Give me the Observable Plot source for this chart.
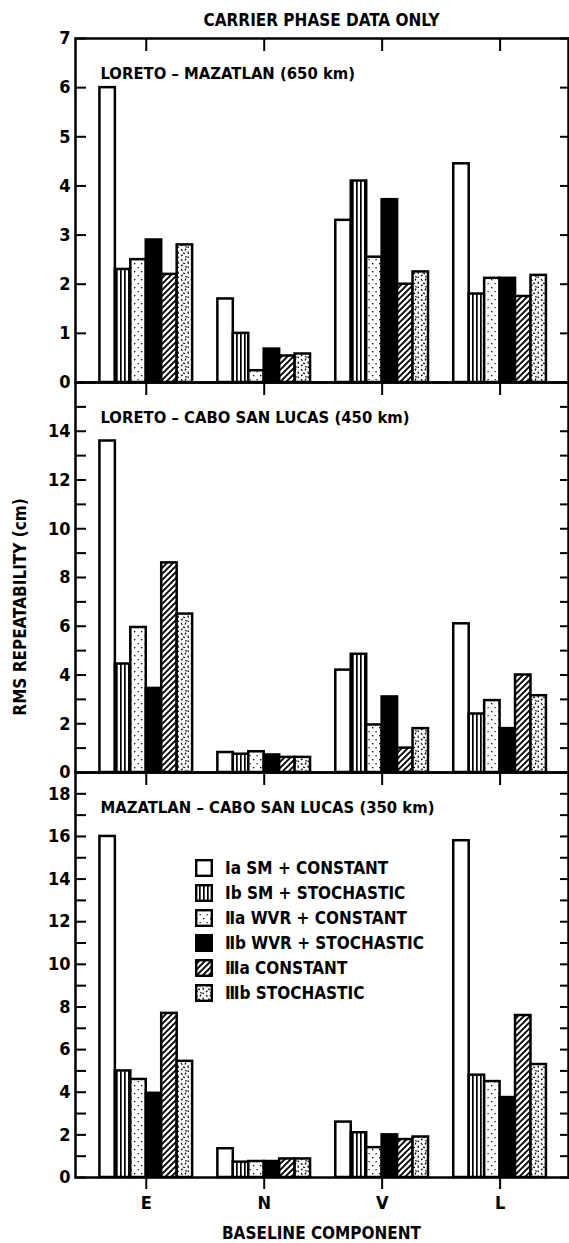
<!DOCTYPE html>
<html><head><meta charset="utf-8">
<script src="https://cdn.jsdelivr.net/npm/d3@7"></script>
<script src="https://cdn.jsdelivr.net/npm/@observablehq/plot@0.6"></script>
<style>
body{margin:0;background:#fff;}
#wrap{position:relative;width:569px;height:1243px;overflow:hidden;font-family:"DejaVu Sans Condensed","Liberation Sans Narrow",sans-serif;font-weight:bold;font-size:17px;color:#000;}
.abs{position:absolute;}
.row{display:flex;align-items:center;height:25px;white-space:nowrap;}
.row svg{margin-right:12px;}
</style></head><body>
<svg width="0" height="0" style="position:absolute">
<defs>
<pattern id="pIb" patternUnits="userSpaceOnUse" width="4" height="4"><rect width="4" height="4" fill="white"/><rect x="0" y="0" width="1.7" height="4" fill="black"/></pattern>
<pattern id="pIIa" patternUnits="userSpaceOnUse" width="7" height="8"><rect width="7" height="8" fill="white"/><rect x="1" y="1" width="1.3" height="1.3" fill="black"/><rect x="4.5" y="5" width="1.2" height="1.2" fill="black"/></pattern>
<pattern id="pIIIa" patternUnits="userSpaceOnUse" width="6" height="6"><rect width="6" height="6" fill="white"/><path d="M-1,1 L1,-1 M0,6 L6,0 M5,7 L7,5" stroke="black" stroke-width="1.9"/></pattern>
<pattern id="pIIIb" patternUnits="userSpaceOnUse" width="10" height="10"><rect width="10" height="10" fill="white"/><path d="M1,1 l1.4,2 M6,0.5 l-1,2 M3,5 l2,0.6 M8,3.5 l0.4,2.4 M1,8 l1.6,-1.2 M5.5,8 l1,1.5 M9,9.5 l-1.5,-0.6" stroke="black" stroke-width="1.2"/></pattern>
</defs></svg>
<div id="wrap">
  <div class="abs" style="left:75px;width:493px;top:0;height:40px;line-height:40px;text-align:center;">CARRIER PHASE DATA ONLY</div>
  <div class="abs" id="p1" style="left:0;top:38px;"></div>
  <div class="abs" id="p2" style="left:0;top:382px;"></div>
  <div class="abs" id="p3" style="left:0;top:772px;"></div>
  <div class="abs" style="left:20px;top:607px;transform:translate(-50%,-50%) rotate(-90deg);white-space:nowrap;">RMS REPEATABILITY (cm)</div>
  <div class="abs" style="left:75px;width:493px;top:1222px;height:22px;line-height:22px;text-align:center;">BASELINE COMPONENT</div>
  <div class="abs" id="legend" style="left:195px;top:855px;"></div>
</div>
<script>
// ---- data ----
const components = ["E", "N", "V", "L"];
const modelCodes = ["Ⅰa", "Ⅰb", "Ⅱa", "Ⅱb", "Ⅲa", "Ⅲb"];
const modelNames = ["SM + CONSTANT", "SM + STOCHASTIC", "WVR + CONSTANT", "WVR + STOCHASTIC", "CONSTANT", "STOCHASTIC"];
const panelTitles = ["LORETO – MAZATLAN (650 km)", "LORETO – CABO SAN LUCAS (450 km)", "MAZATLAN – CABO SAN LUCAS (350 km)"];
// rows = components E, N, V, L ; columns = models Ia..IIIb (cm)
const loretoMazatlan = [
  [6.0, 2.3, 2.5, 2.9, 2.2, 2.8],
  [1.7, 1.0, 0.24, 0.68, 0.54, 0.58],
  [3.3, 4.1, 2.55, 3.72, 2.0, 2.25],
  [4.45, 1.8, 2.12, 2.12, 1.75, 2.18]
];
const loretoCabo = [
  [13.6, 4.45, 5.95, 3.45, 8.6, 6.5],
  [0.82, 0.75, 0.85, 0.72, 0.62, 0.62],
  [4.2, 4.85, 1.95, 3.1, 1.0, 1.8],
  [6.1, 2.4, 2.95, 1.8, 4.0, 3.15]
];
const mazatlanCabo = [
  [16.0, 5.0, 4.6, 3.95, 7.7, 5.45],
  [1.35, 0.72, 0.75, 0.75, 0.87, 0.87],
  [2.6, 2.1, 1.4, 2.0, 1.78, 1.9],
  [15.8, 4.8, 4.5, 3.75, 7.6, 5.3]
];
const yMaxes = [7, 16, 19];
const yLabelTicks = [[0,1,2,3,4,5,6,7], [0,2,4,6,8,10,12,14], [0,2,4,6,8,10,12,14,16,18]];

// ---- styles ----
const fills = ["white", "url(#pIb)", "url(#pIIa)", "black", "url(#pIIIa)", "url(#pIIIb)"];
const barW = 0.131;
const font = '"DejaVu Sans Condensed","Liberation Sans Narrow",sans-serif';

function panel(values, yMax, labelTicks, title, innerHeight, marginBottom, showX) {
  const rows = values.flatMap((vals, ci) => vals.map((v, mi) => ({ci, mi, v})));
  const allTicks = d3.range(0, yMax + 1);
  return Plot.plot({
    width: 569,
    height: innerHeight + marginBottom,
    marginLeft: 75, marginRight: 1, marginTop: 0, marginBottom,
    style: {fontFamily: font, fontSize: "17px", fontWeight: "bold", background: "none", overflow: "visible", color: "black"},
    x: {domain: [-0.6, 3.58], axis: null},
    y: {domain: [0, yMax], axis: null},
    color: {type: "identity"},
    marks: [
      Plot.rect(rows, {
        x1: d => d.ci + (d.mi - 3) * barW,
        x2: d => d.ci + (d.mi - 2) * barW,
        y1: d => 0,
        y2: d => d.v,
        fill: d => fills[d.mi],
        stroke: "black", strokeWidth: 2.5
      }),
      Plot.frame({stroke: "black", strokeWidth: 2.5}),
      Plot.axisY({anchor: "left", ticks: allTicks, tickSize: -11, tickFormat: () => "", strokeWidth: 2, label: null}),
      Plot.axisY({anchor: "left", ticks: labelTicks, tickSize: 0, tickPadding: 5, tickFormat: d3.format("d"), label: null, fontSize: 18}),
      Plot.axisY({anchor: "right", ticks: allTicks, tickSize: -9, tickFormat: () => "", strokeWidth: 2, label: null}),
      Plot.axisX({anchor: "top", ticks: [0,1,2,3], tickSize: -12, tickFormat: () => "", strokeWidth: 2, label: null}),
      showX ? Plot.axisX({anchor: "bottom", ticks: [0,1,2,3], tickSize: 12, tickPadding: 7, tickFormat: i => components[i], strokeWidth: 2, label: null, fontSize: 18}) : null,
      Plot.text([title], {text: d => d, frameAnchor: "top-left", textAnchor: "start", dx: 25, dy: 29, fontSize: 16.5})
    ]
  });
}

document.getElementById("p1").appendChild(panel(loretoMazatlan, yMaxes[0], yLabelTicks[0], panelTitles[0], 344, 0, false));
document.getElementById("p2").appendChild(panel(loretoCabo, yMaxes[1], yLabelTicks[1], panelTitles[1], 390, 0, false));
document.getElementById("p3").appendChild(panel(mazatlanCabo, yMaxes[2], yLabelTicks[2], panelTitles[2], 405, 50, true));

// legend
const legend = document.getElementById("legend");
modelCodes.forEach((code, i) => {
  const row = document.createElement("div");
  row.className = "row";
  row.innerHTML = `<svg width="18" height="18"><rect x="1.2" y="1.2" width="15.6" height="15.6" fill="${fills[i]}" stroke="black" stroke-width="2.4"/></svg><span>${code} ${modelNames[i]}</span>`;
  legend.appendChild(row);
});
</script>
</body></html>
